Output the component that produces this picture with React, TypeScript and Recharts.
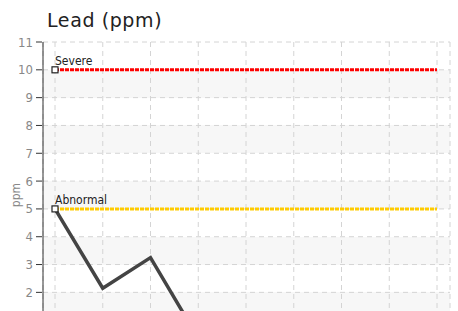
import { LineChart, Line, XAxis, YAxis, CartesianGrid, Label } from "recharts";

// categories are hidden below the visible area, only their positions matter
const samples = ["1", "2", "3", "4", "5", "6", "7", "8", "9"];
const leadValues = [5, 2.15, 3.25, 0.35, null, null, null, null, null];
const severeLimit = [10, 10, 10, 10, 10, 10, 10, 10, 10];
const abnormalLimit = [5, 5, 5, 5, 5, 5, 5, 5, 5];
const yTicks = [0, 1, 2, 3, 4, 5, 6, 7, 8, 9, 10, 11];

const data = samples.map((s, i) => ({
  sample: s,
  lead: leadValues[i],
  severe: severeLimit[i],
  abnormal: abnormalLimit[i],
}));

const tickFont = "'DejaVu Sans Condensed', 'Roboto', sans-serif";

const YTick = (props: any) => {
  const { x, y, payload } = props;
  // labels that would fall below the window are left out
  const showText = y + 6 < 311;
  return (
    <g>
      <line x1={x + 1} x2={x + 7} y1={y} y2={y} stroke="#333" strokeWidth={1} />
      {showText && (
        <text
          x={x - 2}
          y={y}
          dy={4.5}
          textAnchor="end"
          fill="#888"
          fontSize={13}
          fontFamily={tickFont}
        >
          {payload.value}
        </text>
      )}
    </g>
  );
};

// square marker and caption only on the first point of a limit line
const limitDot = (caption: string) => (props: any) => {
  const { cx, cy, index } = props;
  if (index !== 0) return <g key={`d${caption}${index}`} />;
  return (
    <g key={`d${caption}${index}`}>
      <rect x={cx - 3} y={cy - 3} width={6} height={6} fill="#fff" stroke="#222" strokeWidth={1.2} />
      <text x={cx} y={cy - 5} fontSize={12} fill="#222" fontFamily={tickFont}>
        {caption}
      </text>
    </g>
  );
};

export default function App() {
  return (
    <div
      style={{
        position: "absolute",
        left: 0,
        top: 0,
        width: 458,
        height: 311,
        overflow: "hidden",
        background: "#fff",
      }}
    >
      <svg width={458} height={36} style={{ position: "absolute", left: 0, top: 0 }}>
        <text
          x={47}
          y={27}
          fontSize={19}
          fill="#222"
          letterSpacing={0.6}
          fontFamily="'DejaVu Sans', sans-serif"
        >
          Lead (ppm)
        </text>
      </svg>
      <div style={{ position: "absolute", left: 0, top: 0 }}>
        <LineChart
          width={458}
          height={358}
          data={data}
          margin={{ top: 42, right: 8, left: 0, bottom: 10 }}
        >
          <CartesianGrid
            stroke="#d4d4d4"
            strokeDasharray="5 4"
            horizontalFill={["#ffffff", "#f7f7f7"]}
          />
          <XAxis dataKey="sample" hide padding={{ left: 12, right: 13 }} />
          <YAxis
            width={43}
            domain={[0, 11]}
            ticks={yTicks}
            interval={0}
            stroke="#333"
            tickLine={false}
            tick={<YTick />}
          >
            <Label
              value="ppm"
              angle={-90}
              position="insideLeft"
              offset={16}
              fill="#888"
              fontSize={12}
              fontFamily={tickFont}
              style={{ textAnchor: "middle" }}
            />
          </YAxis>
          <Line
            dataKey="severe"
            stroke="#ff0000"
            strokeWidth={3}
            strokeDasharray="4 1"
            dot={limitDot("Severe")}
            activeDot={false}
            isAnimationActive={false}
          />
          <Line
            dataKey="abnormal"
            stroke="#ffcc00"
            strokeWidth={3}
            strokeDasharray="4 1"
            dot={limitDot("Abnormal")}
            activeDot={false}
            isAnimationActive={false}
          />
          <Line
            dataKey="lead"
            stroke="#444"
            strokeWidth={3.5}
            dot={false}
            activeDot={false}
            connectNulls={false}
            isAnimationActive={false}
          />
        </LineChart>
      </div>
    </div>
  );
}
